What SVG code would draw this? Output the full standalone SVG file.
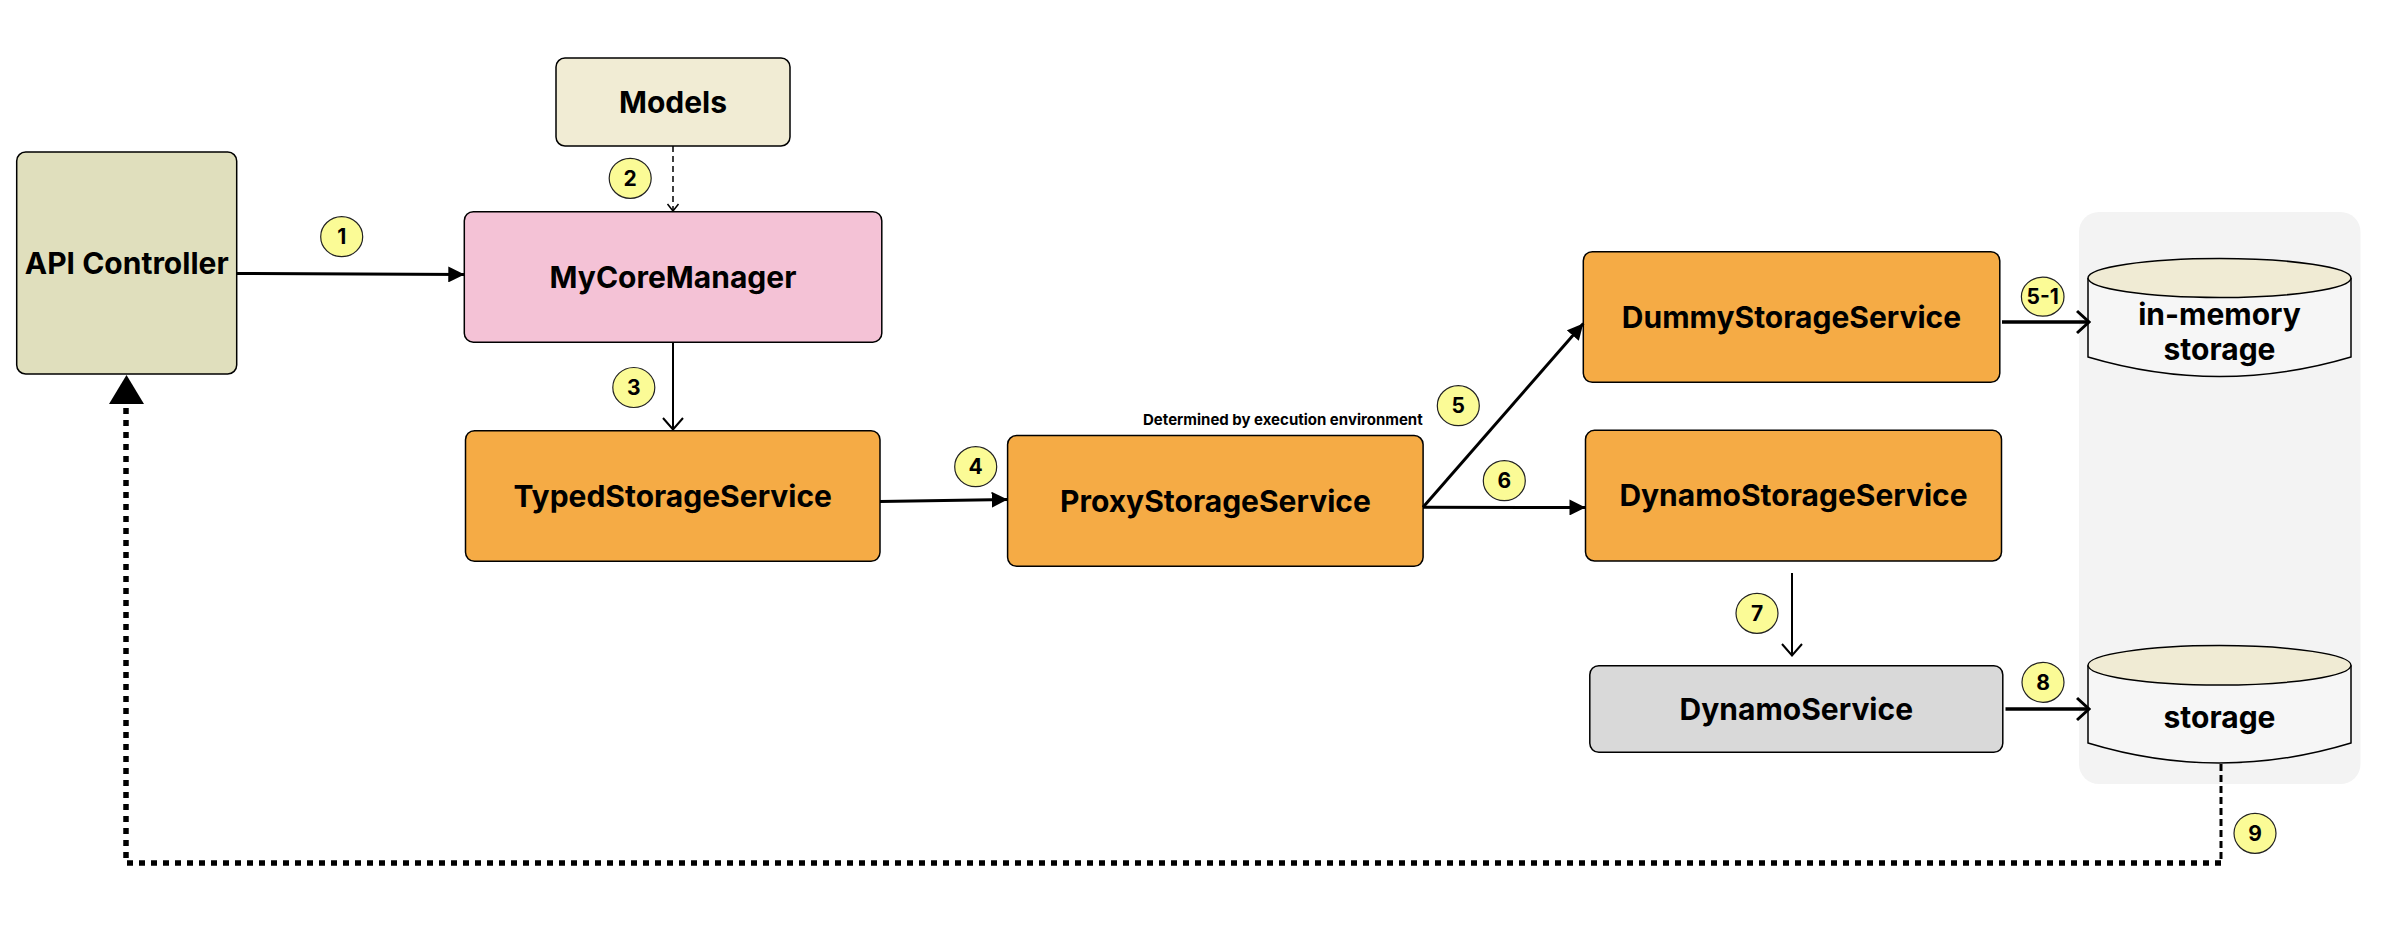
<svg xmlns="http://www.w3.org/2000/svg" width="2383" height="948" viewBox="0 0 2383 948">
<style>
.node{stroke:#000;stroke-width:1.5}
.lbl{font-family:Inter,"Liberation Sans",sans-serif;font-weight:700;font-size:30px;fill:#000;text-anchor:middle}
.badge ellipse{fill:#fbfb96;stroke:#222;stroke-width:1.2}
.badge text{font-family:Inter,"Liberation Sans",sans-serif;font-weight:700;font-size:21px;fill:#000;text-anchor:middle}
.edge{fill:none;stroke:#000}
.note{font-family:Inter,"Liberation Sans",sans-serif;font-weight:700;font-size:15px;fill:#000;text-anchor:end}
</style>
<defs>
<marker id="tri" viewBox="0 0 16 16" refX="16" refY="8" markerWidth="16" markerHeight="16" markerUnits="userSpaceOnUse" orient="auto"><path d="M0,0 L16,8 L0,16 z" fill="#000"/></marker>
<marker id="vee" viewBox="0 0 15 26" refX="13.5" refY="13" markerWidth="15" markerHeight="26" markerUnits="userSpaceOnUse" orient="auto"><path d="M1.5,2 L13.5,13 L1.5,24" fill="none" stroke="#000" stroke-width="3"/></marker>
<marker id="vee2" viewBox="0 0 14 24" refX="12.5" refY="12" markerWidth="14" markerHeight="24" markerUnits="userSpaceOnUse" orient="auto"><path d="M1,2 L12.5,12 L1,22" fill="none" stroke="#000" stroke-width="2"/></marker>
<marker id="vee3" viewBox="0 0 10 14" refX="8" refY="7" markerWidth="10" markerHeight="14" markerUnits="userSpaceOnUse" orient="auto"><path d="M1,1.5 L8,7 L1,12.5" fill="none" stroke="#000" stroke-width="1.5"/></marker>
</defs>
<rect width="2383" height="948" fill="#fff"/>

<g id="storage-container">
<rect x="2079" y="212" width="281.5" height="572" rx="20" fill="#f3f3f3"/>
</g>

<g id="api-controller">
<rect class="node" x="16.7" y="152" width="220" height="222" rx="9" fill="#e0dfbd"/>
<text class="lbl" x="126.7" y="273.5">API Controller</text>
</g>
<g id="models">
<rect class="node" x="556" y="58" width="234" height="88" rx="9" fill="#f1ecd4"/>
<text class="lbl" x="673" y="112.5">Models</text>
</g>
<g id="mycoremanager">
<rect class="node" x="464.3" y="211.7" width="417.5" height="130.5" rx="9" fill="#f4c2d6"/>
<text class="lbl" x="673" y="288">MyCoreManager</text>
</g>
<g id="typedstorageservice">
<rect class="node" x="465.5" y="430.7" width="414.5" height="130.6" rx="9" fill="#f5ab45"/>
<text class="lbl" x="672.7" y="507">TypedStorageService</text>
</g>
<g id="proxystorageservice">
<rect class="node" x="1007.6" y="435.5" width="415.5" height="130.8" rx="9" fill="#f5ab45"/>
<text class="lbl" x="1215.4" y="511.5">ProxyStorageService</text>
<text class="note" x="1422.7" y="425">Determined by execution environment</text>
</g>
<g id="dummystorageservice">
<rect class="node" x="1583.3" y="251.7" width="416.5" height="130.6" rx="9" fill="#f5ab45"/>
<text class="lbl" x="1791.5" y="327.5">DummyStorageService</text>
</g>
<g id="dynamostorageservice">
<rect class="node" x="1585.5" y="430.3" width="416" height="130.7" rx="9" fill="#f5ab45"/>
<text class="lbl" x="1793.5" y="506">DynamoStorageService</text>
</g>
<g id="dynamoservice">
<rect class="node" x="1589.8" y="665.7" width="413" height="86.6" rx="9" fill="#d9d9d9"/>
<text class="lbl" x="1796.3" y="719.5">DynamoService</text>
</g>
<g id="in-memory-storage">
<path class="node" d="M2088,278 L2088,357 Q2219.5,396 2351,357 L2351,278" fill="#f6f6f6" stroke-width="1.2"/>
<ellipse class="node" cx="2219.5" cy="278" rx="131.5" ry="19.5" fill="#f0ebd4" stroke-width="1.2"/>
<text class="lbl" x="2219.5" y="325">in-memory</text>
<text class="lbl" x="2219.5" y="360">storage</text>
</g>
<g id="storage">
<path class="node" d="M2088,665.3 L2088,743 Q2219.5,783 2351,743 L2351,665.3" fill="#f6f6f6" stroke-width="1.2"/>
<ellipse class="node" cx="2219.5" cy="665.3" rx="131.5" ry="19.7" fill="#f0ebd4" stroke-width="1.2"/>
<text class="lbl" x="2219.5" y="728">storage</text>
</g>

<g id="connectors">
<path class="edge" d="M237,273.5 L464.3,274.5" stroke-width="3" marker-end="url(#tri)"/>
<path class="edge" d="M673,146 L673,211" stroke-width="1.5" stroke-dasharray="6 4" marker-end="url(#vee3)"/>
<path class="edge" d="M673,342.2 L673,429.5" stroke-width="2" marker-end="url(#vee2)"/>
<path class="edge" d="M880,501.5 L1007.6,499.5" stroke-width="3" marker-end="url(#tri)"/>
<path class="edge" d="M1423,507.3 L1583.3,323.5" stroke-width="3" marker-end="url(#tri)"/>
<path class="edge" d="M1423,507.3 L1585.5,507.5" stroke-width="3" marker-end="url(#tri)"/>
<path class="edge" d="M2002,322 L2089,322" stroke-width="3.5" marker-end="url(#vee)"/>
<path class="edge" d="M1792,573 L1792,655.5" stroke-width="2" marker-end="url(#vee2)"/>
<path class="edge" d="M2005.5,709 L2089,709" stroke-width="3.5" marker-end="url(#vee)"/>
<path class="edge" d="M2221,764 L2221,862" stroke-width="3" stroke-dasharray="7 4"/>
<path class="edge" d="M2221,863 L126,863 L126,404" stroke-width="5.5" stroke-dasharray="6 6"/>
<path d="M109,404 L126.5,375 L144,404 z" fill="#000"/>
</g>

<g id="badges">
<g class="badge"><ellipse cx="341.7" cy="236.7" rx="21" ry="20"/><text x="341.7" y="244">1</text></g>
<g class="badge"><ellipse cx="630.2" cy="178.3" rx="21" ry="20"/><text x="630.2" y="185.6">2</text></g>
<g class="badge"><ellipse cx="633.8" cy="387.5" rx="21" ry="20"/><text x="633.8" y="394.8">3</text></g>
<g class="badge"><ellipse cx="975.7" cy="466.7" rx="21" ry="20"/><text x="975.7" y="474">4</text></g>
<g class="badge"><ellipse cx="1458.3" cy="405.7" rx="21" ry="20"/><text x="1458.3" y="413">5</text></g>
<g class="badge"><ellipse cx="1504.3" cy="480.7" rx="21" ry="20"/><text x="1504.3" y="488">6</text></g>
<g class="badge"><ellipse cx="2042.7" cy="296.7" rx="21.3" ry="19.5"/><text x="2042.7" y="304">5-1</text></g>
<g class="badge"><ellipse cx="1757" cy="613.3" rx="21" ry="20"/><text x="1757" y="620.6">7</text></g>
<g class="badge"><ellipse cx="2043" cy="682.3" rx="21" ry="20"/><text x="2043" y="689.6">8</text></g>
<g class="badge"><ellipse cx="2255" cy="833.3" rx="21" ry="20"/><text x="2255" y="840.6">9</text></g>
</g>
</svg>
